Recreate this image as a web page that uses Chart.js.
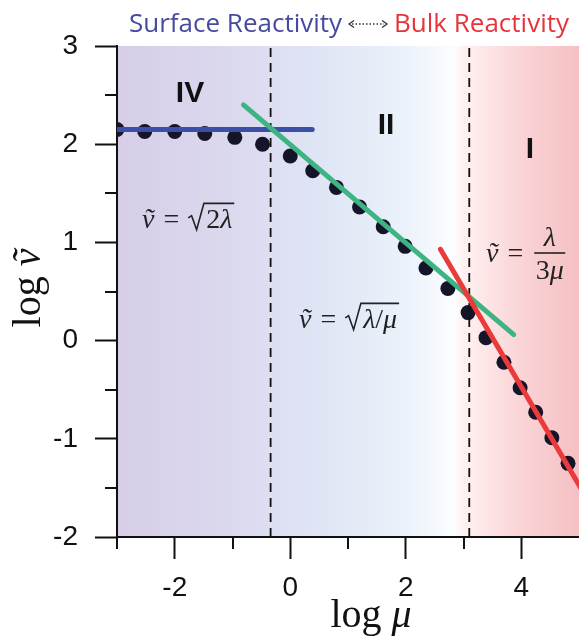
<!DOCTYPE html>
<html>
<head>
<meta charset="utf-8">
<script src="https://cdn.jsdelivr.net/npm/chart.js@4.4.0/dist/chart.umd.min.js"></script>
<style>
	html, body { margin: 0; padding: 0; background: #fff; }
	#wrap { width: 579px; height: 637px; position: relative; }
</style>
</head>
<body>
<div id="wrap"><canvas id="myChart"></canvas></div>
<script>
// simulated points (log mu, log v)
const logMu = [-3.0, -2.52, -2.0, -1.48, -0.96, -0.48, 0.0, 0.39, 0.80, 1.20, 1.61, 1.99, 2.35, 2.73, 3.08, 3.39, 3.70, 3.98, 4.25, 4.53, 4.81];
const logV = [2.15, 2.13, 2.13, 2.11, 2.07, 2.00, 1.88, 1.73, 1.56, 1.36, 1.16, 0.96, 0.74, 0.53, 0.285, 0.03, -0.22, -0.48, -0.73, -0.99, -1.25];

// asymptotes (end points)
const surfaceX = [-3.1, 0.38];
const surfaceY = [2.15, 2.15];
const middleX = [-0.81, 3.87];
const middleY = [2.40, 0.06];
const bulkX = [2.60, 5.1];
const bulkY = [0.93, -1.57];

// regime boundaries
const boundaryX = [-0.34, 3.1];

const xMin = -3, xMax = 5;
const yMin = -2, yMax = 3;
const xTickLabels = [-2, 0, 2, 4];
const yTickLabels = [-2, -1, 0, 1, 2, 3];

const titleLeft = "Surface Reactivity";
const titleRight = "Bulk Reactivity";

const toXY = (xs, ys) => xs.map((x, i) => ({ x: x, y: ys[i] }));

const lineSet = (xs, ys, color, order) => ({
	data: toXY(xs, ys),
	showLine: true,
	borderColor: color,
	borderWidth: 5,
	borderCapStyle: "round",
	pointRadius: 0,
	fill: false,
	clip: 0,
	order: order,
});

const dashedSet = (x) => ({
	data: toXY([x, x], [yMin, yMax]),
	showLine: true,
	borderColor: "#111",
	borderWidth: 1.8,
	borderDash: [9, 6],
	pointRadius: 0,
	fill: false,
	clip: 0,
	order: 5,
});

const bgPlugin = {
	id: "bg",
	beforeDraw(chart) {
		const { ctx, chartArea: a, scales } = chart;
		const g = ctx.createLinearGradient(a.left, 0, a.right, 0);
		const stop = (v, c) => g.addColorStop((scales.x.getPixelForValue(v) - a.left) / (a.right - a.left), c);
		stop(-3, "rgb(215,205,232)");
		stop(-1, "rgb(219,217,238)");
		stop(0.5, "rgb(223,229,245)");
		stop(2.0, "rgb(234,242,250)");
		stop(2.85, "rgb(252,253,255)");
		stop(3.0, "rgb(255,241,241)");
		stop(4.0, "rgb(250,212,214)");
		stop(5, "rgb(245,192,195)");
		ctx.save();
		ctx.fillStyle = g;
		ctx.fillRect(a.left, a.top, a.right - a.left, a.bottom - a.top);
		ctx.restore();
	},
};

const serif = (size, italic) => `${italic ? "italic " : ""}${size}px "Liberation Serif"`;
const FS = 28;

const drawRun = (ctx, parts, x, y) => {
	parts.forEach((p) => {
		if (p.gap) {
			x += p.gap;
			return;
		}
		ctx.font = serif(FS, p.italic);
		ctx.fillText(p.text, x, y);
		x += ctx.measureText(p.text).width;
	});
	return x;
};
const runWidth = (ctx, parts) => {
	let w = 0;
	parts.forEach((p) => {
		if (p.gap) w += p.gap;
		else {
			ctx.font = serif(FS, p.italic);
			w += ctx.measureText(p.text).width;
		}
	});
	return w;
};
const drawRadical = (ctx, x, y, s, w) => {
	ctx.beginPath();
	ctx.moveTo(x, y - 0.36 * s);
	ctx.lineTo(x + 0.12 * s, y - 0.44 * s);
	ctx.lineTo(x + 0.3 * s, y + 0.06 * s);
	ctx.lineTo(x + 0.56 * s, y - 0.88 * s);
	ctx.lineTo(x + 0.64 * s + w + 2, y - 0.88 * s);
	ctx.stroke();
	return x + 0.64 * s;
};
const vt = { text: "v\u0303", italic: true };
const eq = [{ gap: 9 }, { text: "=", italic: false }, { gap: 9 }];

const textPlugin = {
	id: "texts",
	afterDraw(chart) {
		const { ctx, chartArea: a, scales } = chart;
		ctx.save();

		// minor ticks
		ctx.strokeStyle = "#111";
		ctx.lineWidth = 2;
		[-1.5, -0.5, 0.5, 1.5, 2.5].forEach((v) => {
			const py = Math.round(scales.y.getPixelForValue(v));
			ctx.beginPath();
			ctx.moveTo(a.left - 12, py);
			ctx.lineTo(a.left, py);
			ctx.stroke();
		});
		[-3, -1, 1, 3].forEach((v) => {
			const px = Math.round(scales.x.getPixelForValue(v));
			ctx.beginPath();
			ctx.moveTo(px, a.bottom);
			ctx.lineTo(px, a.bottom + 12);
			ctx.stroke();
		});

		// regime labels
		ctx.fillStyle = "#111";
		ctx.font = 'bold 30px "Liberation Sans"';
		ctx.textAlign = "center";
		ctx.fillText("IV", 190, 102);
		ctx.fillText("II", 386, 134);
		ctx.fillText("I", 530, 158);
		ctx.textAlign = "left";

		// formulas
		ctx.fillStyle = "#222";
		ctx.strokeStyle = "#222";
		ctx.lineWidth = 1.6;
		let x = drawRun(ctx, [vt, ...eq], 142, 228);
		let inner = [{ text: "2", italic: false }, { text: "λ", italic: true }];
		x = drawRadical(ctx, x, 228, FS, runWidth(ctx, inner));
		drawRun(ctx, inner, x, 228);

		x = drawRun(ctx, [vt, ...eq], 299, 328);
		inner = [{ text: "λ", italic: true }, { text: "/", italic: false }, { text: "μ", italic: true }];
		x = drawRadical(ctx, x, 328, FS, runWidth(ctx, inner));
		drawRun(ctx, inner, x, 328);

		x = drawRun(ctx, [vt, ...eq], 486, 262);
		const num = [{ text: "λ", italic: true }];
		const den = [{ text: "3", italic: false }, { text: "μ", italic: true }];
		const barW = 31;
		const bx = x + 2;
		drawRun(ctx, num, bx + (barW - runWidth(ctx, num)) / 2, 246);
		ctx.beginPath();
		ctx.moveTo(bx, 253);
		ctx.lineTo(bx + barW, 253);
		ctx.stroke();
		drawRun(ctx, den, bx + (barW - runWidth(ctx, den)) / 2, 279);

		// axis titles
		ctx.fillStyle = "#111";
		ctx.font = serif(40, false);
		const logW = ctx.measureText("log ").width;
		ctx.font = serif(40, true);
		const muW = ctx.measureText("μ").width;
		let tx = 371 - (logW + muW) / 2;
		ctx.font = serif(40, false);
		ctx.fillText("log ", tx, 627);
		ctx.font = serif(40, true);
		ctx.fillText("μ", tx + logW, 627);

		ctx.save();
		ctx.translate(40, 288);
		ctx.rotate(-Math.PI / 2);
		ctx.font = serif(40, true);
		const vW = ctx.measureText("v\u0303").width;
		tx = -(logW + vW) / 2;
		ctx.font = serif(40, false);
		ctx.fillText("log ", tx, 0);
		ctx.font = serif(40, true);
		ctx.fillText("v\u0303", tx + logW, 0);
		ctx.restore();

		// top title
		ctx.font = '26px "Open Sans"';
		ctx.textBaseline = "alphabetic";
		let hx = 129;
		const hy = 32;
		ctx.fillStyle = "#464aa0";
		ctx.fillText(titleLeft, hx, hy);
		hx += ctx.measureText(titleLeft).width + 7;
		const ax0 = hx, ax1 = hx + 38, ay = 24;
		ctx.strokeStyle = "#333";
		ctx.lineWidth = 1.3;
		ctx.setLineDash([1.5, 2]);
		ctx.beginPath();
		ctx.moveTo(ax0 + 3, ay);
		ctx.lineTo(ax1 - 3, ay);
		ctx.stroke();
		ctx.setLineDash([]);
		ctx.beginPath();
		ctx.moveTo(ax0 + 5, ay - 3.5);
		ctx.lineTo(ax0, ay);
		ctx.lineTo(ax0 + 5, ay + 3.5);
		ctx.moveTo(ax1 - 5, ay - 3.5);
		ctx.lineTo(ax1, ay);
		ctx.lineTo(ax1 - 5, ay + 3.5);
		ctx.stroke();
		ctx.fillStyle = "#e5353b";
		ctx.fillText(titleRight, ax1 + 7, hy);

		ctx.restore();
	},
};

const ctx = document.getElementById("myChart");
const myChart = new Chart(ctx, {
	type: "scatter",
	data: {
		datasets: [
			{
				data: toXY(logMu, logV),
				pointRadius: 7.5,
				pointBackgroundColor: "#15152a",
				pointBorderWidth: 0,
				clip: 0,
				order: 6,
			},
			dashedSet(boundaryX[0]),
			dashedSet(boundaryX[1]),
			lineSet(surfaceX, surfaceY, "#3b4ea8", 3),
			lineSet(middleX, middleY, "#3db482", 2),
			lineSet(bulkX, bulkY, "#ea3a3a", 1),
		],
	},
	options: {
		responsive: true,
		maintainAspectRatio: false,
		animation: false,
		devicePixelRatio: 1,
		layout: { autoPadding: false, padding: { top: 46, right: 0, left: 0, bottom: 0 } },
		plugins: { legend: { display: false }, tooltip: { enabled: false } },
		scales: {
			x: {
				type: "linear",
				min: xMin,
				max: xMax,
				afterFit: (scale) => {
					scale.height = 100;
					scale.paddingLeft = 0;
					scale.paddingRight = 0;
				},
				border: { display: true, color: "#111", width: 2 },
				grid: {
					drawOnChartArea: false,
					drawTicks: true,
					tickLength: 22,
					tickWidth: 2,
					tickColor: (c) => (c.tick && xTickLabels.includes(c.tick.value) ? "#111" : "rgba(0,0,0,0)"),
				},
				ticks: {
					stepSize: 1,
					autoSkip: false,
					maxRotation: 0,
					padding: 12,
					color: "#111",
					font: { family: "Liberation Sans", size: 28 },
					callback: (v) => (xTickLabels.includes(v) ? String(v) : ""),
				},
			},
			y: {
				type: "linear",
				min: yMin,
				max: yMax,
				afterFit: (scale) => {
					scale.width = 117;
				},
				border: { display: true, color: "#111", width: 2 },
				grid: {
					drawOnChartArea: false,
					drawTicks: true,
					tickLength: 22,
					tickWidth: 2,
					tickColor: (c) => (c.tick && yTickLabels.includes(c.tick.value) ? "#111" : "rgba(0,0,0,0)"),
				},
				ticks: {
					stepSize: 0.5,
					autoSkip: false,
					padding: 17,
					color: "#111",
					font: { family: "Liberation Sans", size: 28 },
					callback: (v) => (yTickLabels.includes(v) ? String(v) : ""),
				},
			},
		},
	},
	plugins: [bgPlugin, textPlugin],
});
</script>
</body>
</html>
